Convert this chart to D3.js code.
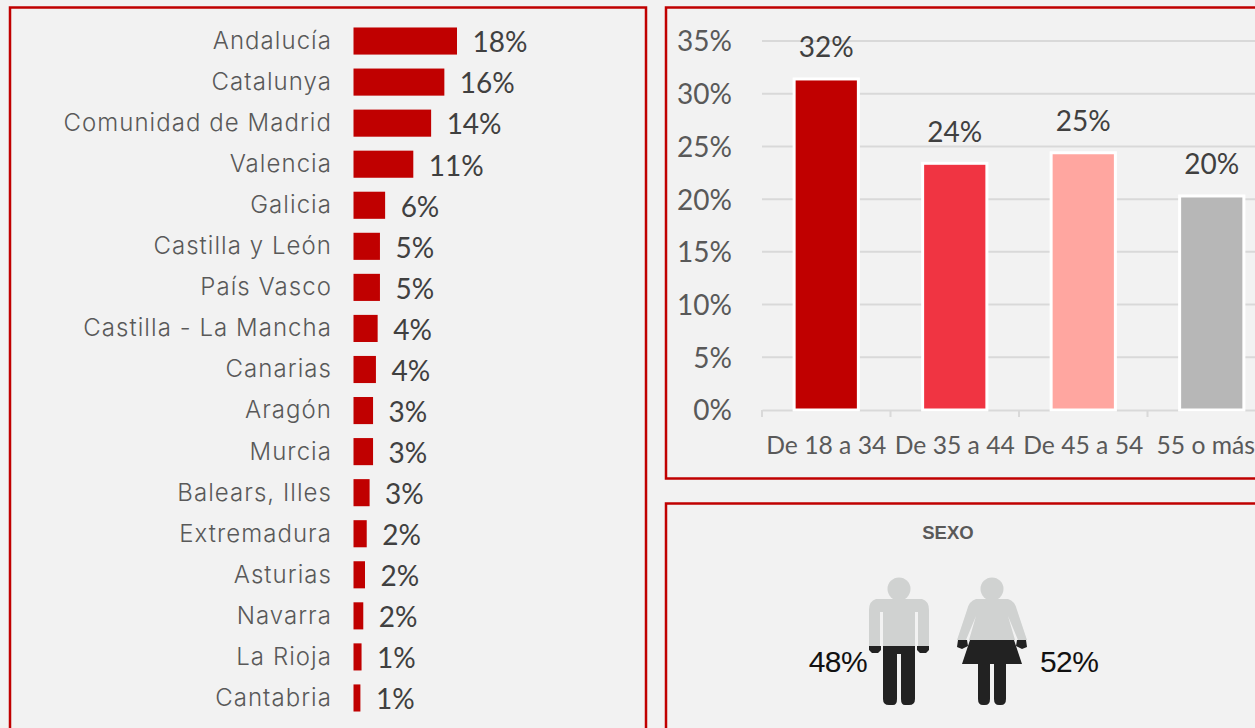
<!DOCTYPE html>
<html><head><meta charset="utf-8">
<script src="https://cdn.jsdelivr.net/npm/d3@7/dist/d3.min.js"></script>
<style>
html,body{margin:0;padding:0;background:#f2f2f2;overflow:hidden}
svg{display:block}
.cal{font-family:Lato,sans-serif}
.region{font-family:Inter,sans-serif;font-weight:300;letter-spacing:1.05px}
</style></head><body><svg id="c" width="1255" height="728"></svg>
<script>
const regions=["Andalucía","Catalunya","Comunidad de Madrid","Valencia","Galicia","Castilla y León","País Vasco","Castilla - La Mancha","Canarias","Aragón","Murcia","Balears, Illes","Extremadura","Asturias","Navarra","La Rioja","Cantabria"];
const regionValues=[18,15.8,13.5,10.4,5.5,4.6,4.6,4.2,3.9,3.4,3.4,2.8,2.3,2,1.7,1.4,1.2];
const regionLabels=["18%","16%","14%","11%","6%","5%","5%","4%","4%","3%","3%","3%","2%","2%","2%","1%","1%"];
const ages=["De 18 a 34","De 35 a 44","De 45 a 54","55 o más"];
const ageValues=[31.4,23.4,24.4,20.3];
const ageLabels=["32%","24%","25%","20%"];
const ageColors=["#c00000","#f03442","#ffa6a0","#b7b7b7"];
const yTicks=[0,5,10,15,20,25,30,35];
const sexLabels=["48%","52%"];
const sexTitle="SEXO";

const svg=d3.select("#c");
const RED="#c00000";
[[10,7.5,636,760],[666,7.5,640,471],[666,503.5,640,260]].forEach(p=>{
  svg.append("rect").attr("x",p[0]).attr("y",p[1]).attr("width",p[2]).attr("height",p[3])
    .attr("fill","#f2f2f2").attr("stroke",RED).attr("stroke-width",2.5);
});

// Left bars
const xL=d3.scaleLinear().domain([0,18]).range([353.5,457]);
const yL=d3.scaleBand().domain(regions).range([20.5,718.5]).paddingInner(0.34).paddingOuter(0.17);
const gL=svg.append("g");
gL.selectAll("rect").data(regions).join("rect")
  .attr("x",xL(0)).attr("y",d=>yL(d)).attr("width",(d,i)=>xL(regionValues[i])-xL(0)).attr("height",yL.bandwidth()).attr("fill",RED);
gL.selectAll("text.region").data(regions).join("text").attr("class","region")
  .attr("x",332).attr("y",d=>yL(d)+yL.bandwidth()/2-0.5).attr("dy","0.35em").attr("text-anchor","end")
  .attr("font-size",24).attr("fill","#595959").text(d=>d);
gL.selectAll("text.val").data(regions).join("text").attr("class","val cal")
  .attr("x",(d,i)=>xL(regionValues[i])+15.5).attr("y",d=>yL(d)+yL.bandwidth()/2+1.5).attr("dy","0.35em")
  .attr("font-size",28).attr("fill","#404040").text((d,i)=>regionLabels[i]);

// Column chart
const xC=d3.scaleBand().domain(ages).range([762,1276]).paddingInner(0.5).paddingOuter(0.25);
const xEdge=d3.scaleLinear().domain([0,4]).range([762,1276]);
const yC=d3.scaleLinear().domain([0,35]).range([410,41]);
const gC=svg.append("g");
const ay=gC.append("g").attr("transform","translate(762,1)")
  .call(d3.axisLeft(yC).tickValues(yTicks).tickFormat(d=>d+"%").tickSize(0).tickPadding(30));
ay.select(".domain").remove();
ay.selectAll("text").attr("font-family","Lato,sans-serif").attr("font-size",28).attr("fill","#595959");
gC.append("g").selectAll("line").data(yTicks.slice(1)).join("line")
  .attr("x1",762).attr("x2",1255).attr("y1",d=>yC(d)).attr("y2",d=>yC(d)).attr("stroke","#d9d9d9").attr("stroke-width",2);
const ax=gC.append("g").attr("transform","translate(0,410)")
  .call(d3.axisBottom(xC).tickSize(0).tickPadding(26));
ax.select(".domain").attr("stroke","#d9d9d9").attr("stroke-width",2);
ax.selectAll("text").attr("font-family","Lato,sans-serif").attr("font-size",24.7).attr("fill","#595959")
  .attr("dx",(d,i)=>i===3?-6:0);
gC.append("g").selectAll("line").data(d3.range(5)).join("line")
  .attr("x1",d=>xEdge(d)).attr("x2",d=>xEdge(d)).attr("y1",410).attr("y2",417).attr("stroke","#d9d9d9").attr("stroke-width",2);
gC.append("g").selectAll("rect").data(ages).join("rect")
  .attr("x",d=>xC(d)).attr("width",xC.bandwidth())
  .attr("y",(d,i)=>yC(ageValues[i])).attr("height",(d,i)=>yC(0)-yC(ageValues[i]))
  .attr("fill",(d,i)=>ageColors[i]).attr("stroke","#fff").attr("stroke-width",3);
gC.append("g").selectAll("text").data(ages).join("text").attr("class","cal")
  .attr("x",d=>xC(d)+xC.bandwidth()/2).attr("y",(d,i)=>yC(ageValues[i])-31.5).attr("dy","0.35em").attr("text-anchor","middle")
  .attr("font-size",28).attr("fill","#404040").text((d,i)=>ageLabels[i]);

// Sex pictograms
const gS=svg.append("g");
gS.append("text").attr("x",948).attr("y",539).attr("text-anchor","middle").attr("font-family","Liberation Sans,sans-serif")
  .attr("font-size",18.5).attr("font-weight",700).attr("fill","#595959").text(sexTitle);
const GREY="#d0d2d1",DARK="#222";
const man=gS.append("g").attr("transform","translate(899,0)");
man.append("circle").attr("cy",589).attr("r",11.5).attr("fill",GREY);
man.append("path").attr("fill",GREY).attr("d","M-23,599H23Q30,601 30,610V646H19V612H16V646H-16V612H-19V646H-30V610Q-30,601 -23,599Z");
man.append("path").attr("fill",DARK).attr("d","M-16,646H16V699Q16,705 10,705H6Q2,705 2,699V654H-2V699Q-2,705 -6,705H-10Q-16,705 -16,699Z");
man.append("path").attr("fill",DARK).attr("d","M-30,646H-18V650L-21,653H-27L-30,650ZM18,646H30V650L27,653H21L18,650Z");
const woman=gS.append("g").attr("transform","translate(992,0)");
woman.append("circle").attr("cy",589).attr("r",11.5).attr("fill",GREY);
woman.append("path").attr("fill",GREY).attr("d","M-16,599H16Q23,601 25,610L35,640H26L16,616L23,640H-23L-16,616L-26,640H-35L-25,610Q-23,601 -16,599Z");
woman.append("path").attr("fill",DARK).attr("d","M-22,640H22L30,664H-30Z");
woman.append("path").attr("fill",DARK).attr("d","M-34,640H-25L-24,646L-30,649L-35,647ZM25,640H34L35,647L30,649L24,646Z");
woman.append("path").attr("fill",DARK).attr("d","M-14,664H-2V699Q-2,705 -7,705H-9Q-14,705 -14,699ZM2,664H14V699Q14,705 9,705H7Q2,705 2,699Z");
gS.selectAll("text.s").data(sexLabels).join("text").attr("class","s")
  .attr("x",(d,i)=>i?1040:867).attr("y",672).attr("text-anchor",(d,i)=>i?"start":"end")
  .attr("font-family","Liberation Sans,sans-serif").attr("font-size",30).attr("fill","#111").attr("letter-spacing",-0.6).text(d=>d);
</script></body></html>
